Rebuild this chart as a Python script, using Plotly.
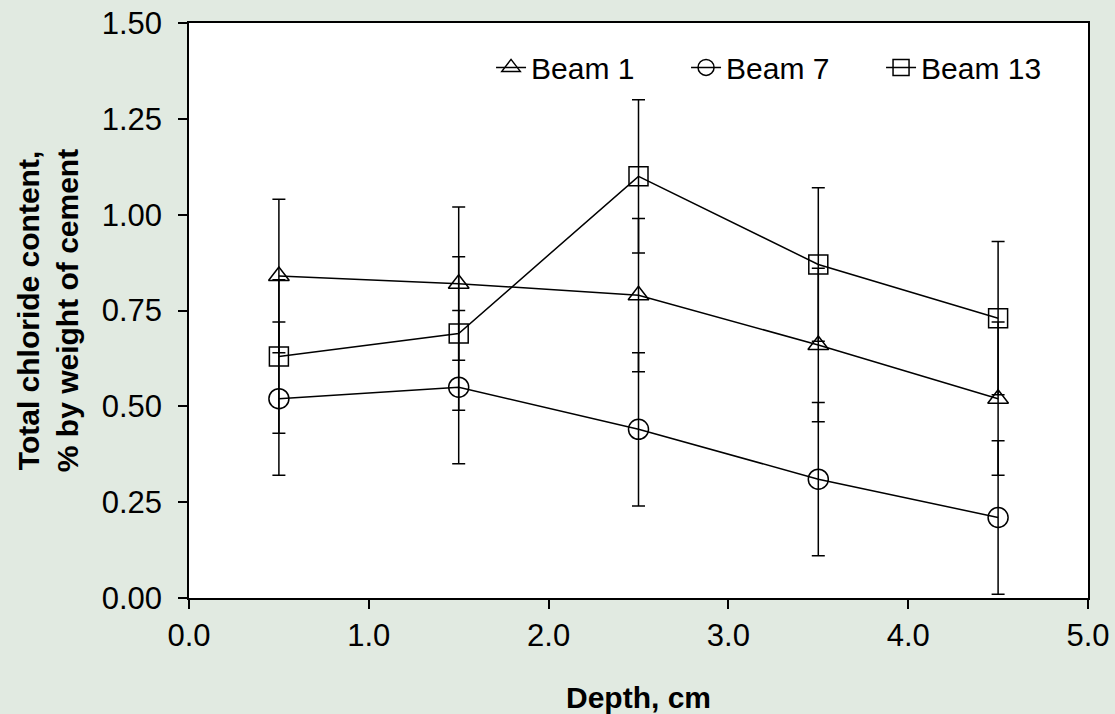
import plotly.graph_objects as go

depth = [0.5, 1.5, 2.5, 3.5, 4.5]
beam1 = [0.84, 0.82, 0.79, 0.66, 0.52]
beam7 = [0.52, 0.55, 0.44, 0.31, 0.21]
beam13 = [0.63, 0.69, 1.10, 0.87, 0.73]
err1 = [0.2, 0.2, 0.2, 0.2, 0.2]
err7 = [0.2, 0.2, 0.2, 0.2, 0.2]
err13 = [0.2, 0.2, 0.2, 0.2, 0.2]

x_ticks = [0, 1, 2, 3, 4, 5]
x_ticktext = ["0.0", "1.0", "2.0", "3.0", "4.0", "5.0"]
y_ticks = [0, 0.25, 0.5, 0.75, 1.0, 1.25, 1.5]
y_ticktext = ["0.00", "0.25", "0.50", "0.75", "1.00", "1.25", "1.50"]

series = [
    ("Beam 1", beam1, err1, "triangle-up-open", 18),
    ("Beam 7", beam7, err7, "circle-open", 20),
    ("Beam 13", beam13, err13, "square-open", 19),
]

fig = go.Figure()
for name, vals, errs, sym, sz in series:
    fig.add_trace(go.Scatter(
        x=depth, y=vals, name=name, mode="lines+markers",
        line=dict(color="black", width=1.5),
        marker=dict(symbol=sym, size=sz, color="black", line=dict(color="black", width=1.5)),
        error_y=dict(type="data", array=errs, visible=True, color="black", thickness=1.5, width=6.5),
    ))

font = "Liberation Sans, Arial, sans-serif"
fig.update_layout(
    width=1115, height=714,
    paper_bgcolor="#E1EAE1", plot_bgcolor="white",
    margin=dict(l=189, r=27, t=23, b=116),
    font=dict(family=font, color="black", size=30),
    showlegend=True,
    legend=dict(orientation="h", x=0.9867, xanchor="right", y=0.968, yanchor="top",
                bgcolor="rgba(0,0,0,0)", font=dict(size=30), entrywidth=150,
                traceorder="normal"),
    xaxis=dict(range=[0, 5], tickvals=x_ticks, ticktext=x_ticktext, showgrid=False, zeroline=False,
               showline=True, linecolor="black", linewidth=1.5, mirror=True,
               ticks="outside", ticklen=9, tickwidth=1.5, tickcolor="black",
               tickfont=dict(size=31), automargin=False,
               title=dict(text="<b>Depth, cm</b>", font=dict(size=30), standoff=35)),
    yaxis=dict(range=[0, 1.5], tickvals=y_ticks, ticktext=y_ticktext, showgrid=False, zeroline=False,
               showline=True, linecolor="black", linewidth=1.5, mirror=True,
               ticks="outside", ticklen=9, tickwidth=1.5, tickcolor="black",
               tickfont=dict(size=31), automargin=False, ticklabelstandoff=10,
               title=dict(text="<b>Total chloride content,<br>% by weight of cement</b>", font=dict(size=30), standoff=14)),
)
fig.write_html("out.html", config={"displayModeBar": False},
               post_script="document.body.style.margin='0';document.body.style.overflow='hidden';")
